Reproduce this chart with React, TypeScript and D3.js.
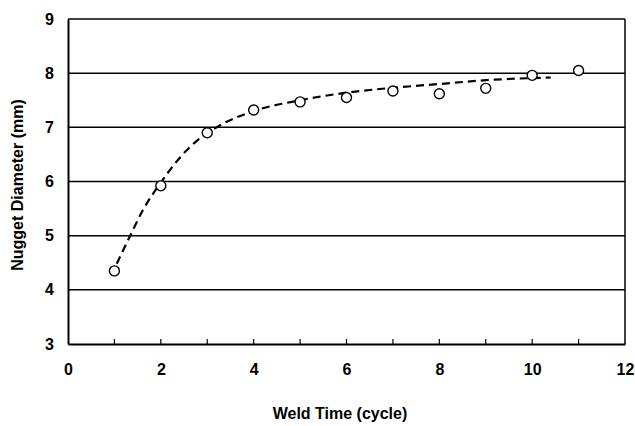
import { useEffect, useRef } from 'react'
import { select, scaleLinear, axisBottom, axisLeft, line, curveMonotoneX, format } from 'd3'

// measured points
const weldTime = [1, 2, 3, 4, 5, 6, 7, 8, 9, 10, 11]
const diameter = [4.35, 5.92, 6.9, 7.32, 7.47, 7.55, 7.67, 7.62, 7.72, 7.96, 8.05]

// fitted trend line
const fitTime = [1.05, 1.34, 1.6, 2.0, 2.4, 2.8, 3.28, 4.0, 5.0, 6.0, 7.0, 8.0, 9.0, 10.4]
const fitDiameter = [4.48, 5.0, 5.45, 5.98, 6.43, 6.77, 7.04, 7.3, 7.5, 7.64, 7.73, 7.8, 7.87, 7.92]

const xTicks = [0, 2, 4, 6, 8, 10, 12]
const xMinorTicks = [1, 2, 3, 4, 5, 6, 7, 8, 9, 10, 11]
const yTicks = [3, 4, 5, 6, 7, 8, 9]

function App() {
  const svg_ref = useRef<SVGSVGElement>(null)
  const width = 635,
        height = 426
  const paddings = { left: 68, top: 19, right: 10, bottom: 82 }

  useEffect(() => {
    const svg = select(svg_ref.current)
    svg.selectAll('*').remove()

    const x = scaleLinear([0, 12], [paddings.left, width - paddings.right]),
          y = scaleLinear([3, 9], [height - paddings.bottom, paddings.top])

    const font = 'Liberation Sans, Arial, sans-serif'

    // horizontal grid lines
    svg.append('g')
      .selectAll('line')
      .data(yTicks.slice(1))
      .join('line')
      .attr('x1', x(0))
      .attr('x2', x(12))
      .attr('y1', d => y(d))
      .attr('y2', d => y(d))
      .attr('stroke', '#000')
      .attr('stroke-width', 1.5)

    // right border
    svg.append('line')
      .attr('x1', x(12)).attr('x2', x(12))
      .attr('y1', y(3)).attr('y2', y(9))
      .attr('stroke', '#000')
      .attr('stroke-width', 1.5)

    // x axis
    const x_axis = axisBottom(x).tickValues(xTicks).tickSize(0).tickPadding(20)
      .tickFormat(format('d'))
    const gx = svg.append('g')
      .attr('transform', `translate(0, ${y(3)})`)
      .call(x_axis)
    gx.select('.domain').attr('stroke-width', 2)
    gx.selectAll('text')
      .attr('font-family', font)
      .attr('font-weight', 'bold')
      .attr('font-size', 16)
      .attr('fill', '#000')

    svg.append('g')
      .selectAll('line')
      .data(xMinorTicks)
      .join('line')
      .attr('x1', d => x(d))
      .attr('x2', d => x(d))
      .attr('y1', y(3))
      .attr('y2', y(3) - 5)
      .attr('stroke', '#000')
      .attr('stroke-width', 1.2)

    // y axis
    const y_axis = axisLeft(y).tickValues(yTicks).tickSize(0).tickPadding(14)
      .tickFormat(format('d'))
    const gy = svg.append('g')
      .attr('transform', `translate(${x(0)}, 0)`)
      .call(y_axis)
    gy.select('.domain').attr('stroke-width', 2)
    gy.selectAll('text')
      .attr('font-family', font)
      .attr('font-weight', 'bold')
      .attr('font-size', 16)
      .attr('fill', '#000')

    // dashed fit
    const fit = fitTime.map((t, i) => [t, fitDiameter[i]] as [number, number])
    svg.append('path')
      .datum(fit)
      .attr('fill', 'none')
      .attr('stroke', '#000')
      .attr('stroke-width', 2.2)
      .attr('stroke-dasharray', '8,5')
      .attr('d', line<[number, number]>()
        .x(d => x(d[0]))
        .y(d => y(d[1]))
        .curve(curveMonotoneX)
      )

    // points
    svg.append('g')
      .selectAll('circle')
      .data(weldTime)
      .join('circle')
      .attr('cx', d => x(d))
      .attr('cy', (d, i) => y(diameter[i]))
      .attr('r', 5)
      .attr('fill', '#fff')
      .attr('stroke', '#000')
      .attr('stroke-width', 1.4)

    // axis titles
    svg.append('text')
      .attr('x', 340)
      .attr('y', 419)
      .attr('text-anchor', 'middle')
      .attr('font-family', font)
      .attr('font-weight', 'bold')
      .attr('font-size', 16)
      .text('Weld Time (cycle)')

    svg.append('text')
      .attr('transform', `translate(23, 185) rotate(-90)`)
      .attr('text-anchor', 'middle')
      .attr('font-family', font)
      .attr('font-weight', 'bold')
      .attr('font-size', 16)
      .text('Nugget Diameter (mm)')
  }, [])

  return (
    <svg ref={svg_ref} width={width} height={height}
      style={{ position: 'absolute', left: 0, top: 0, background: '#fff' }}></svg>
  )
}

export default App
